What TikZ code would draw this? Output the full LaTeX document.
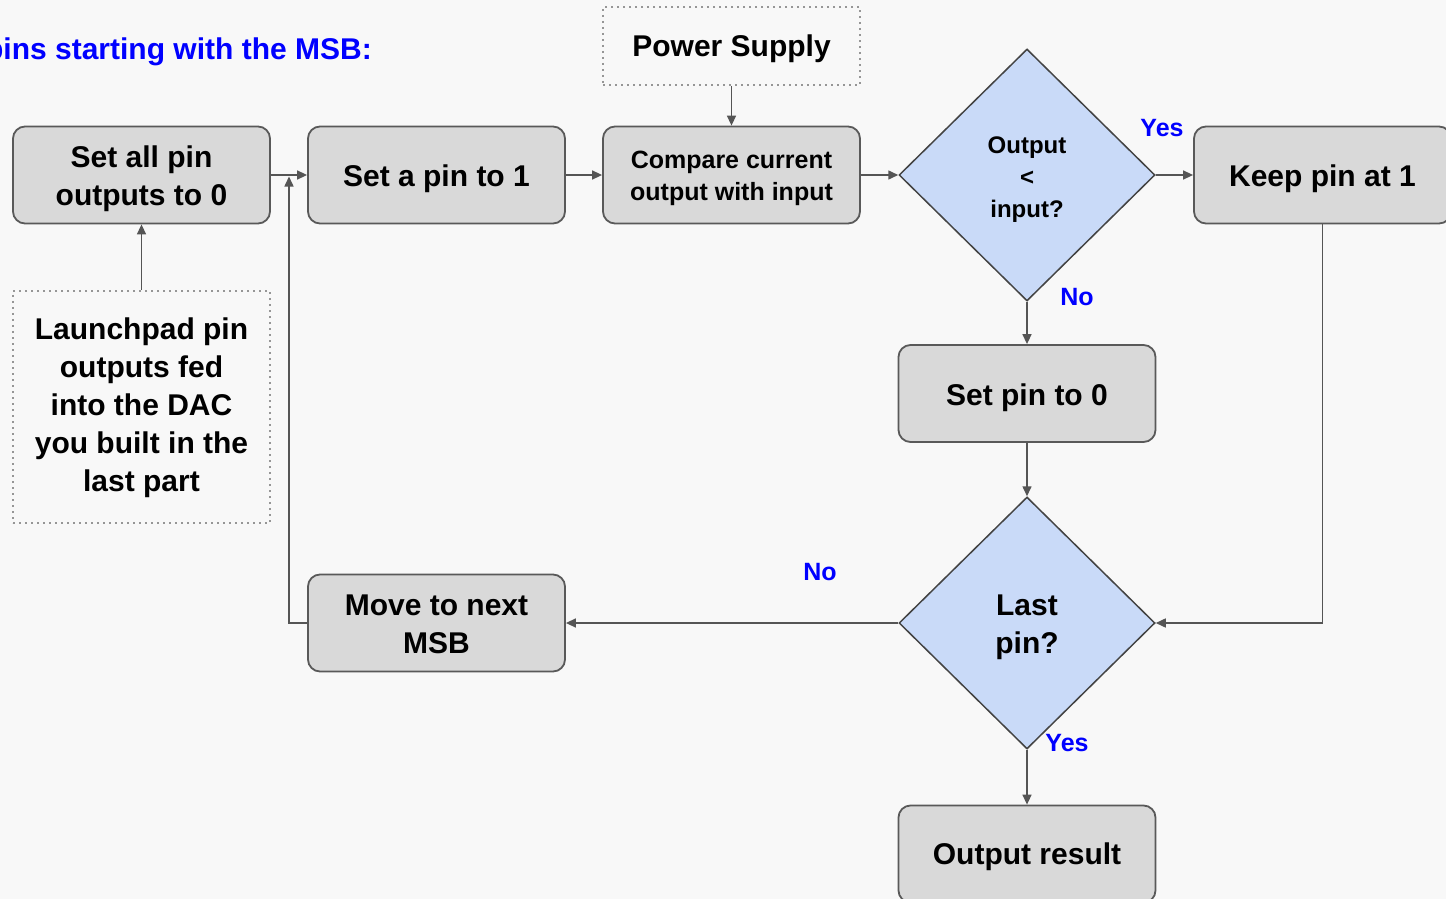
\documentclass[tikz,border=0pt]{standalone}
\usepackage{fontspec}
\setmainfont{Liberation Sans}
\usetikzlibrary{shapes.geometric,arrows.meta}
\definecolor{bgc}{RGB}{248,248,248}
\definecolor{boxfill}{RGB}{217,217,217}
\definecolor{boxline}{RGB}{89,89,89}
\definecolor{diafill}{RGB}{201,218,248}
\definecolor{dialine}{RGB}{67,67,67}
\definecolor{linec}{RGB}{85,85,85}
\definecolor{dotc}{RGB}{150,150,150}
\definecolor{lblblue}{RGB}{0,0,255}
\newcommand{\lowtext}[2]{\raisebox{-#1}[\height][\depth]{\begin{tabular}{@{}c@{}}#2\end{tabular}}}
\tikzset{
  procbox/.style={draw=boxline, fill=boxfill, line width=1.8pt, rounded corners=12pt,
    minimum width=257pt, minimum height=97pt, inner sep=0pt,
    font=\bfseries\fontsize{30}{38}\selectfont},
  notebox/.style={draw=dotc, line width=1.6pt, dash pattern=on 1.6pt off 4.4pt,
    minimum width=257pt, inner sep=0pt,
    font=\bfseries\fontsize{30}{38}\selectfont},
  decision/.style={diamond, draw=dialine, fill=diafill, line width=1.5pt,
    minimum width=256pt, minimum height=252pt, inner sep=0pt},
  conn/.style={draw=linec, line width=1.5pt, -{Triangle[length=10pt,width=9pt]}},
  lbl/.style={text=lblblue, font=\bfseries\fontsize{25}{30}\selectfont, inner sep=0pt}
}
\begin{document}
\begin{tikzpicture}[x=1pt,y=-1pt]
\path[use as bounding box, fill=bgc] (0,0) rectangle (1446,899);

\node[anchor=east, text=lblblue, font=\bfseries\fontsize{30}{36}\selectfont, inner sep=0pt] (title) at (372,52) {pins starting with the MSB:};

\node[procbox] (setall) at (141.5,175) {\lowtext{4pt}{Set all pin\\outputs to 0}};
\node[procbox] (setone) at (436.5,175) {\lowtext{4pt}{Set a pin to 1}};
\node[procbox, font=\bfseries\fontsize{25}{32}\selectfont] (compare) at (731.5,175) {\lowtext{3pt}{Compare current\\output with input}};
\node[notebox, minimum height=78pt] (power) at (731.5,46) {\lowtext{3pt}{Power Supply}};
\node[decision, font=\bfseries\fontsize{24}{32}\selectfont] (cmp) at (1027,175) {\lowtext{4pt}{Output\\<\\input?}};
\node[procbox] (keep) at (1322.5,175) {\lowtext{4pt}{Keep pin at 1}};
\node[procbox] (setzero) at (1027,393.5) {\lowtext{4pt}{Set pin to 0}};
\node[decision, font=\bfseries\fontsize{30}{38}\selectfont] (last) at (1027,623) {\lowtext{4pt}{Last\\pin?}};
\node[procbox] (move) at (436.5,623) {\lowtext{3.5pt}{Move to next\\MSB}};
\node[procbox] (result) at (1027,854) {\lowtext{3pt}{Output result}};
\node[notebox, minimum height=232pt] (launch) at (141.5,407) {\lowtext{1pt}{Launchpad pin\\outputs fed\\into the DAC\\you built in the\\last part}};

\node[lbl] (yes1) at (1162,128) {Yes};
\node[lbl] (no1) at (1077,297) {No};
\node[lbl] (no2) at (820,572) {No};
\node[lbl] (yes2) at (1067,743) {Yes};

\coordinate (merge) at (289,176.5);
\coordinate (mergecorner) at (289,623);
\coordinate (keepcorner) at (1322.5,623);

\draw[conn] (setall.east) -- (setone.west);
\draw[conn] (setone.east) -- (compare.west);
\draw[conn] (compare.east) -- (cmp.west);
\draw[conn] (power.south) -- (compare.north);
\draw[conn] (cmp.east) -- (keep.west);
\draw[conn] (cmp.south) -- (setzero.north);
\draw[conn] (setzero.south) -- (last.north);
\draw[conn] (keep.south) -- (keepcorner) -- (last.east);
\draw[conn] (last.west) -- (move.east);
\draw[conn] (move.west) -- (mergecorner) -- (merge);
\draw[conn] (launch.north) -- (setall.south);
\draw[conn] (last.south) -- (result.north);
\end{tikzpicture}
\end{document}
